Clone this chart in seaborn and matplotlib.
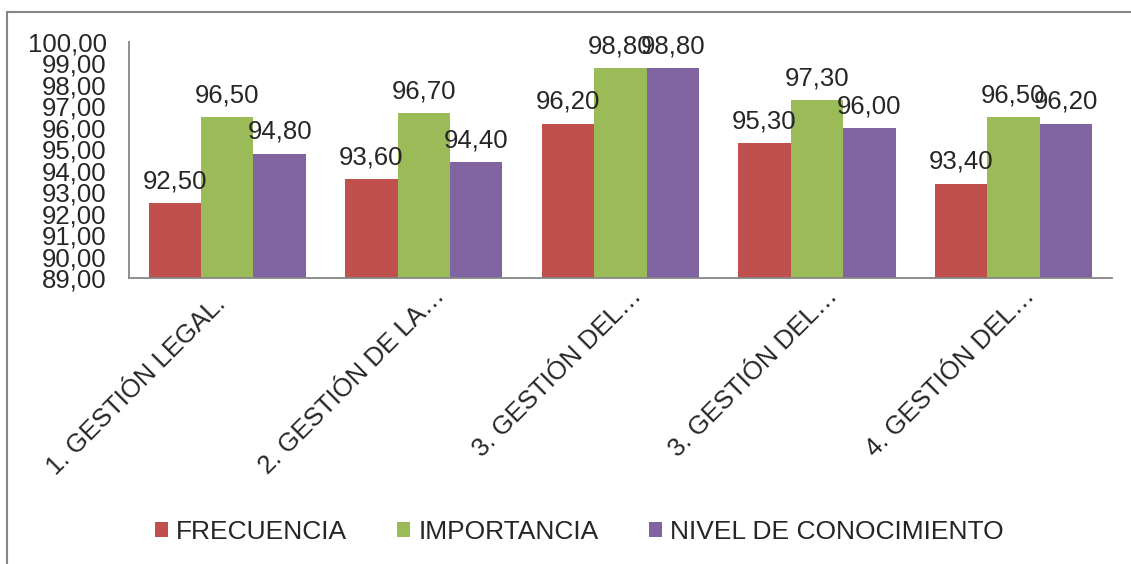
import matplotlib
matplotlib.use("Agg")
import matplotlib.pyplot as plt
import matplotlib.transforms as mtransforms
import seaborn as sns
import numpy as np
import pandas as pd
from matplotlib.patches import Rectangle

categorias = ['1. GESTIÓN LEGAL.', '2. GESTIÓN DE LA…', '3. GESTIÓN DEL…',
              '3. GESTIÓN DEL…', '4. GESTIÓN DEL…']
series = ['FRECUENCIA', 'IMPORTANCIA', 'NIVEL DE CONOCIMIENTO']
frecuencia = [92.50, 93.60, 96.20, 95.30, 93.40]
importancia = [96.50, 96.70, 98.80, 97.30, 96.50]
nivel = [94.80, 94.40, 98.80, 96.00, 96.20]
colores = ['#C0504D', '#9BBB59', '#8064A2']
yticks = list(range(89, 101))

sns.set_style('white')
plt.rcParams['font.family'] = ['Liberation Sans', 'DejaVu Sans']

# formato largo; la categoría se guarda como índice porque hay dos etiquetas repetidas
df = pd.DataFrame({
    'grupo': np.tile(np.arange(len(categorias)), len(series)),
    'serie': np.repeat(series, len(categorias)),
    'valor': frecuencia + importancia + nivel,
})

fig = plt.figure(figsize=(11.31, 5.64), dpi=100)
ax = fig.add_axes([0.114, 0.507, 0.869, 0.4185])

sns.barplot(data=df, x='grupo', y='valor', hue='serie', hue_order=series,
            palette=colores, saturation=1, width=0.8, gap=0, ax=ax,
            edgecolor='none', linewidth=0)

ax.set_ylim(89, 100)
ax.set_yticks(yticks)
ax.set_yticklabels([f'{v:.2f}'.replace('.', ',') for v in yticks], fontsize=18.5)
ax.set_xticks(range(len(categorias)))
ax.set_xticklabels(categorias, fontsize=18.5, rotation=45, ha='right',
                   va='center', rotation_mode='anchor')
ax.tick_params(axis='y', length=0, pad=16)
ax.tick_params(axis='x', length=0, pad=16)
ax.set_xlabel('')
ax.set_ylabel('')

# las etiquetas truncadas con "…" quedan algo desplazadas en el original
for lbl in ax.get_xticklabels():
    if lbl.get_text().endswith('…'):
        off = mtransforms.ScaledTranslation(0.17, 0.08, fig.dpi_scale_trans)
    else:
        off = mtransforms.ScaledTranslation(-0.05, 0, fig.dpi_scale_trans)
    lbl.set_transform(lbl.get_transform() + off)

for s in ['top', 'right']:
    ax.spines[s].set_visible(False)
for s in ['left', 'bottom']:
    ax.spines[s].set_color('#868686')
    ax.spines[s].set_linewidth(1.3)

for cont in ax.containers:
    ax.bar_label(cont, labels=[f'{b.get_height():.2f}'.replace('.', ',') for b in cont],
                 padding=7, fontsize=18.5)

handles, labels = ax.get_legend_handles_labels()
ax.get_legend().remove()
fig.legend(handles, labels, loc='center', bbox_to_anchor=(0.512, 0.057),
           ncol=3, frameon=False, fontsize=19, handlelength=0.5,
           handleheight=0.5, handletextpad=0.3, columnspacing=1.9)

# marco exterior del gráfico
fig.patches.append(Rectangle((7 / 1131, -0.1), 2, 1 - 12 / 564 + 0.1,
                             transform=fig.transFigure, fill=False,
                             edgecolor='#868686', linewidth=1.5))

fig.savefig('out.png', dpi=100)
